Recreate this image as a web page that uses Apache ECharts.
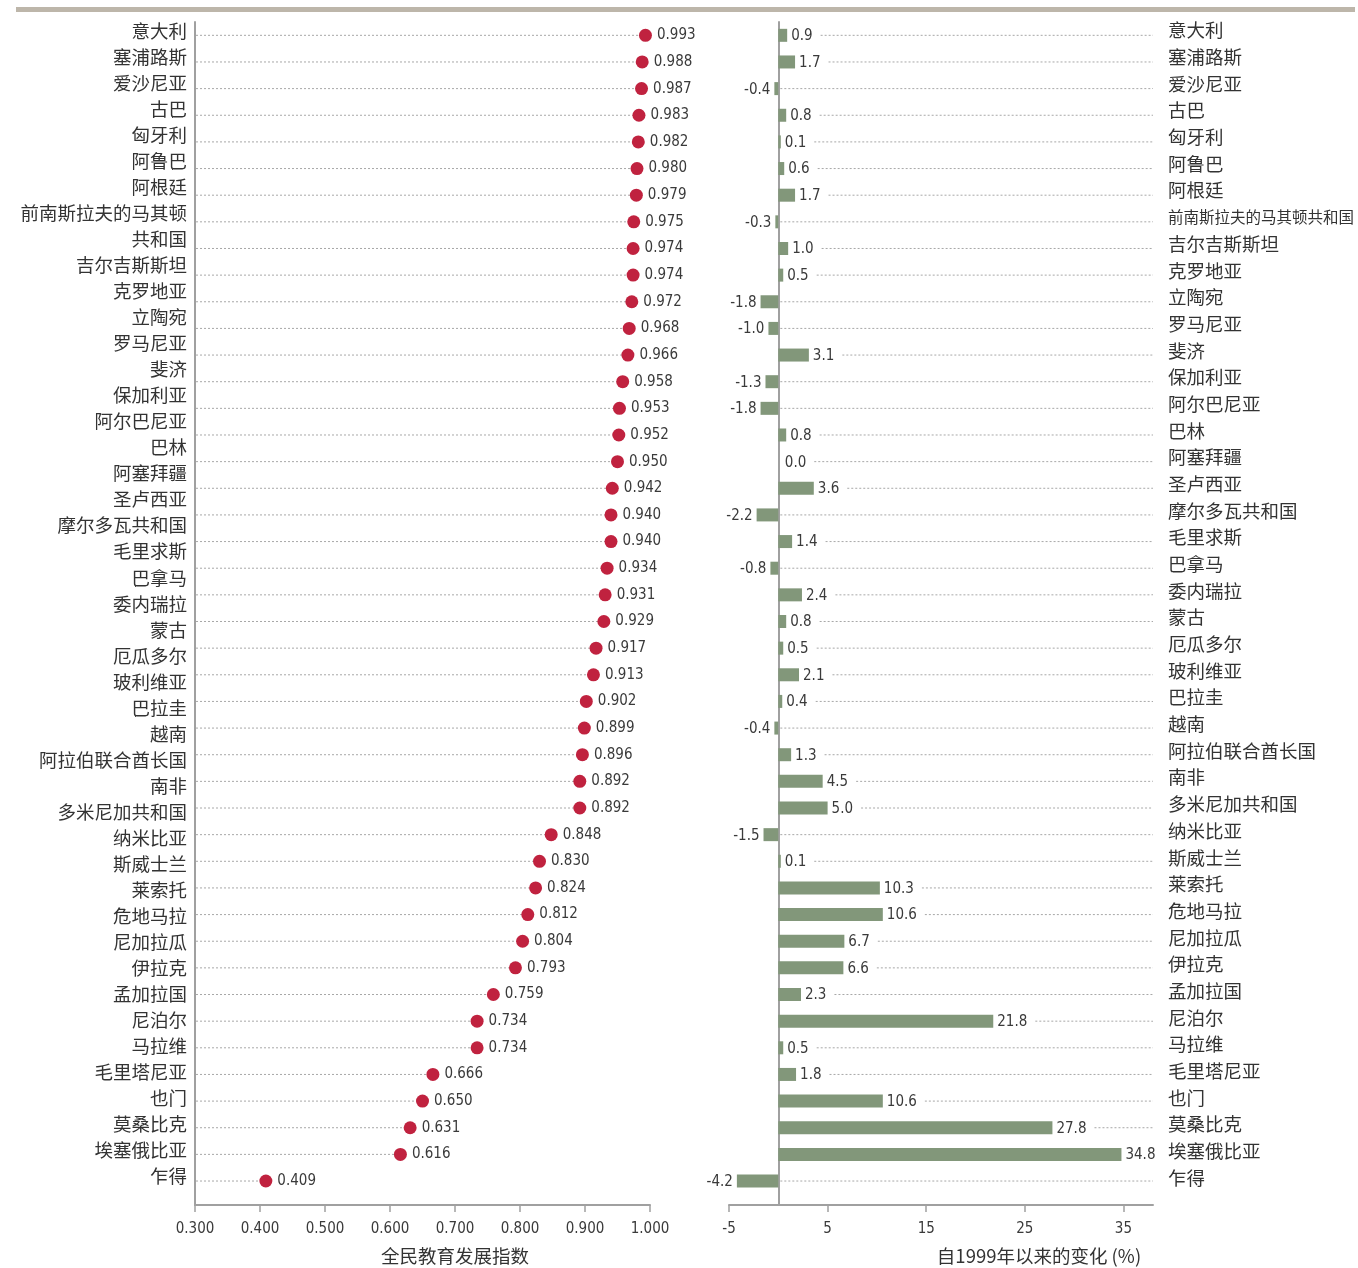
<!DOCTYPE html>
<html>
<head>
<meta charset="utf-8">
<script src="https://cdn.jsdelivr.net/npm/echarts@6/dist/echarts.min.js"></script>
<style>
html,body{margin:0;padding:0;background:#fff;}
#chart{width:1358px;height:1268px;}
</style>
</head>
<body>
<div id="chart"></div>
<script>
// ---------- DATA ----------
const countries = ['意大利','塞浦路斯','爱沙尼亚','古巴','匈牙利','阿鲁巴','阿根廷','前南斯拉夫的马其顿共和国','吉尔吉斯斯坦','克罗地亚','立陶宛','罗马尼亚','斐济','保加利亚','阿尔巴尼亚','巴林','阿塞拜疆','圣卢西亚','摩尔多瓦共和国','毛里求斯','巴拿马','委内瑞拉','蒙古','厄瓜多尔','玻利维亚','巴拉圭','越南','阿拉伯联合酋长国','南非','多米尼加共和国','纳米比亚','斯威士兰','莱索托','危地马拉','尼加拉瓜','伊拉克','孟加拉国','尼泊尔','马拉维','毛里塔尼亚','也门','莫桑比克','埃塞俄比亚','乍得'];
const leftLabels = ['意大利','塞浦路斯','爱沙尼亚','古巴','匈牙利','阿鲁巴','阿根廷','前南斯拉夫的马其顿','共和国','吉尔吉斯斯坦','克罗地亚','立陶宛','罗马尼亚','斐济','保加利亚','阿尔巴尼亚','巴林','阿塞拜疆','圣卢西亚','摩尔多瓦共和国','毛里求斯','巴拿马','委内瑞拉','蒙古','厄瓜多尔','玻利维亚','巴拉圭','越南','阿拉伯联合酋长国','南非','多米尼加共和国','纳米比亚','斯威士兰','莱索托','危地马拉','尼加拉瓜','伊拉克','孟加拉国','尼泊尔','马拉维','毛里塔尼亚','也门','莫桑比克','埃塞俄比亚','乍得'];
const ediValues = [0.993,0.988,0.987,0.983,0.982,0.980,0.979,0.975,0.974,0.974,0.972,0.968,0.966,0.958,0.953,0.952,0.950,0.942,0.940,0.940,0.934,0.931,0.929,0.917,0.913,0.902,0.899,0.896,0.892,0.892,0.848,0.830,0.824,0.812,0.804,0.793,0.759,0.734,0.734,0.666,0.650,0.631,0.616,0.409];
const changeValues = [0.9,1.7,-0.4,0.8,0.1,0.6,1.7,-0.3,1.0,0.5,-1.8,-1.0,3.1,-1.3,-1.8,0.8,0.0,3.6,-2.2,1.4,-0.8,2.4,0.8,0.5,2.1,0.4,-0.4,1.3,4.5,5.0,-1.5,0.1,10.3,10.6,6.7,6.6,2.3,21.8,0.5,1.8,10.6,27.8,34.8,-4.2];
const leftTicks = [0.3,0.4,0.5,0.6,0.7,0.8,0.9,1.0];
const rightTicks = [-5,5,15,25,35];
const leftAxisTitle = '全民教育发展指数';
const rightAxisTitle = '自1999年以来的变化 (%)';

// ---------- STYLE ----------
const NUM_FONT = "'Liberation Sans Narrow','DejaVu Sans Condensed','Roboto Condensed','Liberation Sans',sans-serif";
const CJK_FONT = "'Noto Sans CJK SC','Noto Sans',sans-serif";
const NUM_SIZE = 15;
const DOT_COLOR = '#C0223F';
const BAR_COLOR = '#82977A';
const AXIS_COLOR = '#A0A0A0';
const DOT_LINE = '#A8A8A8';
const TEXT_COLOR = '#333333';
const NUM_COLOR = '#3a3a3a';

const measureCtx = document.createElement('canvas').getContext('2d');
measureCtx.font = NUM_SIZE + 'px ' + NUM_FONT;
function textW(t){ return measureCtx.measureText(t).width; }

const chart = echarts.init(document.getElementById('chart'));

const yAxisData = {
  type:'value', inverse:true, min:-0.5, max:43.9,
  axisLabel:{show:false}, axisTick:{show:false}, splitLine:{show:false}
};

const option = {
  backgroundColor:'#ffffff',
  animation:false,
  grid:[
    {left:195, width:455, top:22, height:1183},             // 0 left data
    {left:729, width:424, top:22, height:1183},             // 1 right data
    {left:195, width:455, top:18, height:1171},             // 2 left labels
    {left:729, width:431, top:17, height:1174}              // 3 right labels
  ],
  xAxis:[
    {gridIndex:0, type:'value', min:0.3, max:1.0,
     axisLine:{onZero:false, lineStyle:{color:AXIS_COLOR, width:2}},
     axisTick:{show:true, length:7, customValues:leftTicks, lineStyle:{color:AXIS_COLOR, width:1.5}},
     axisLabel:{customValues:leftTicks, formatter:v=>v.toFixed(3), color:NUM_COLOR, fontSize:NUM_SIZE, fontFamily:NUM_FONT, margin:17},
     splitLine:{show:false}},
    {gridIndex:1, type:'value', min:-5, max:38,
     axisLine:{onZero:false, lineStyle:{color:AXIS_COLOR, width:2}},
     axisTick:{show:true, length:7, customValues:rightTicks, lineStyle:{color:AXIS_COLOR, width:1.5}},
     axisLabel:{customValues:rightTicks, formatter:v=>String(v), color:NUM_COLOR, fontSize:NUM_SIZE, fontFamily:NUM_FONT, margin:17},
     splitLine:{show:false}},
    {gridIndex:2, type:'value', show:false},
    {gridIndex:3, type:'value', show:false}
  ],
  yAxis:[
    Object.assign({gridIndex:0, axisLine:{show:true, onZero:false, lineStyle:{color:AXIS_COLOR, width:2}}}, yAxisData),
    Object.assign({gridIndex:1, axisLine:{show:true, onZero:true, lineStyle:{color:AXIS_COLOR, width:2}}}, yAxisData),
    {gridIndex:2, type:'category', inverse:true, data:leftLabels,
     axisLine:{show:false}, axisTick:{show:false}, splitLine:{show:false},
     axisLabel:{margin:8, color:TEXT_COLOR, fontSize:18.5, fontFamily:CJK_FONT, interval:0}},
    {gridIndex:3, type:'category', position:'right', inverse:true, data:countries,
     axisLine:{show:false}, axisTick:{show:false}, splitLine:{show:false},
     axisLabel:{margin:8, color:TEXT_COLOR, fontSize:18.5, fontFamily:CJK_FONT, interval:0,
       formatter:v=> v.length > 9 ? '{s|' + v + '}' : v,
       rich:{s:{fontSize:15.5, fontFamily:CJK_FONT, color:TEXT_COLOR}}}}
  ],
  series:[
    { // dotted leader lines, left panel
      type:'custom', xAxisIndex:0, yAxisIndex:0, silent:true,
      data: ediValues.map((v,i)=>[v,i]),
      encode:{x:0, y:1},
      renderItem:(params, api)=>{
        const v = api.value(0), i = api.value(1);
        const a = api.coord([0.3, i]), b = api.coord([v, i]);
        return {type:'line', shape:{x1:a[0]+1, y1:a[1], x2:b[0], y2:b[1]},
                style:{stroke:DOT_LINE, lineWidth:1, lineDash:[2,2]}};
      }
    },
    { // dots
      type:'scatter', xAxisIndex:0, yAxisIndex:0,
      data: ediValues.map((v,i)=>[v,i]),
      symbolSize:13,
      itemStyle:{color:DOT_COLOR, opacity:1},
      label:{show:true, position:'right', distance:5,
        formatter:p=>p.value[0].toFixed(3),
        color:NUM_COLOR, fontSize:NUM_SIZE, fontFamily:NUM_FONT}
    },
    { // bars + value labels + dotted leaders, right panel
      type:'custom', xAxisIndex:1, yAxisIndex:1, silent:true,
      data: changeValues.map((v,i)=>[v,i]),
      encode:{x:0, y:1},
      renderItem:(params, api)=>{
        const v = api.value(0), i = api.value(1);
        const p0 = api.coord([0, i]), p1 = api.coord([v, i]);
        const h = 13;
        const cs = params.coordSys;
        const rightEdge = cs.x + cs.width;
        const txt = v.toFixed(1);
        const children = [];
        const x0 = Math.min(p0[0], p1[0]);
        let w = Math.abs(p1[0]-p0[0]);
        if (v > 0 && w < 2.5) w = 2.5;
        if (v !== 0) children.push({type:'rect', shape:{x:x0, y:p0[1]-h/2, width:w, height:h}, style:{fill:BAR_COLOR}});
        let lineStart;
        if (v >= 0) {
          const tx = Math.max(p1[0], p0[0]+2.5) + 4;
          children.push({type:'text', style:{text:txt, x:tx, y:p0[1]+1, align:'left', verticalAlign:'middle',
            fill:NUM_COLOR, fontSize:NUM_SIZE, fontFamily:NUM_FONT}});
          lineStart = tx + textW(txt) + 8;
        } else {
          children.push({type:'text', style:{text:txt, x:p1[0]-4, y:p0[1]+1, align:'right', verticalAlign:'middle',
            fill:NUM_COLOR, fontSize:NUM_SIZE, fontFamily:NUM_FONT}});
          lineStart = p0[0] + 2;
        }
        if (lineStart < rightEdge - 2) {
          children.push({type:'line', shape:{x1:lineStart, y1:p0[1], x2:rightEdge, y2:p0[1]},
            style:{stroke:DOT_LINE, lineWidth:1, lineDash:[2,2]}});
        }
        return {type:'group', children};
      }
    }
  ],
  graphic:[
    {type:'rect', left:16, top:7, shape:{width:1339, height:5}, style:{fill:'#BDB6AA'}, silent:true},
    {type:'text', x:455, y:1256, style:{text:leftAxisTitle, align:'center', verticalAlign:'middle',
      fill:TEXT_COLOR, fontSize:18.5, fontFamily:CJK_FONT}},
    {type:'text', x:1039, y:1256, style:{text:rightAxisTitle, align:'center', verticalAlign:'middle',
      fill:TEXT_COLOR, fontSize:18.5, fontFamily:CJK_FONT}}
  ]
};
chart.setOption(option);
</script>
</body>
</html>
